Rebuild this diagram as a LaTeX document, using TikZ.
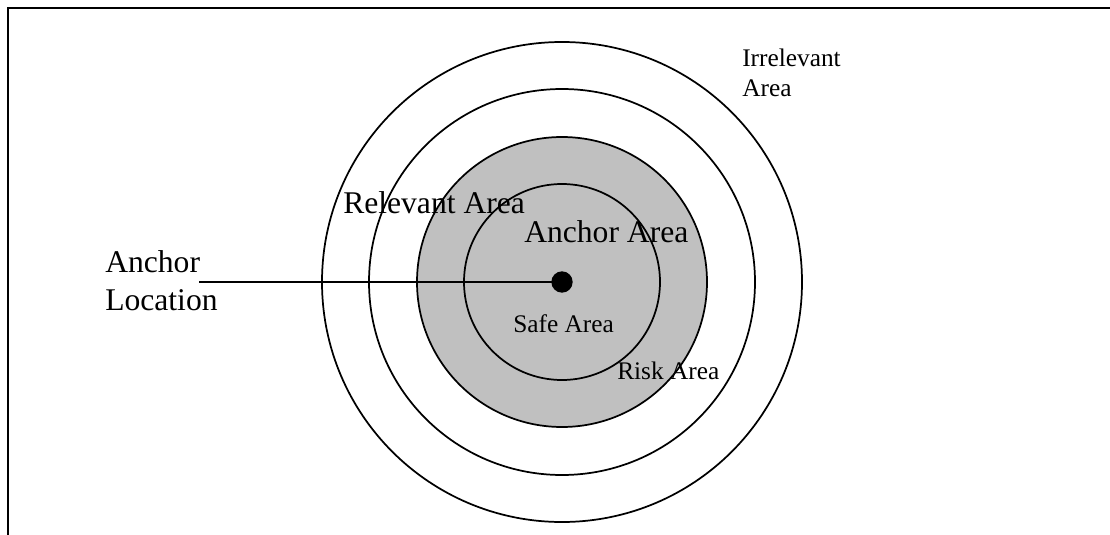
\documentclass[tikz,border=0pt]{standalone}
\usepackage{fontspec}
\setmainfont{Liberation Serif}
\begin{document}
\begin{tikzpicture}[x=0.75pt,y=-0.75pt,
  ring/.style={draw=black,line width=1.3pt},
  bigtext/.style={inner sep=0pt,anchor=base west,font=\fontsize{23.7}{28.5}\selectfont},
  smalltext/.style={inner sep=0pt,anchor=base west,font=\fontsize{19}{22.5}\selectfont}]
  \useasboundingbox (0,0) rectangle (1110,535);
  % open frame: left and top edges only
  \draw[line width=2.2pt] (8,535) -- (8,8) -- (1110,8);
  % concentric zones around the anchor
  \coordinate (c) at (562,282);
  \draw[ring] (c) circle[radius=240];
  \draw[ring] (c) circle[radius=193];
  \draw[ring,fill={rgb,255:red,192;green,192;blue,192}] (c) circle[radius=145];
  \draw[ring] (c) circle[radius=98];
  % labels (multi-line nodes sit on the baseline of their last line)
  \node[bigtext,align=left] (loc) at (105,310) {Anchor\\Location};
  \node[bigtext] (rel) at (343,213) {Relevant Area};
  \node[bigtext] (anc) at (524,242) {Anchor Area};
  \node[smalltext] (safe) at (513,332) {Safe Area};
  \node[smalltext] (risk) at (617,379) {Risk Area};
  \node[smalltext,align=left] (irr) at (742,97) {Irrelevant\\Area};
  % anchor point and its pointer line
  \node[circle,fill=black,inner sep=0pt,minimum size=16] (dot) at (c) {};
  \coordinate (lineStart) at (199,282);
  \draw[line width=1.3pt] (lineStart) -- (dot.center);
\end{tikzpicture}
\end{document}
